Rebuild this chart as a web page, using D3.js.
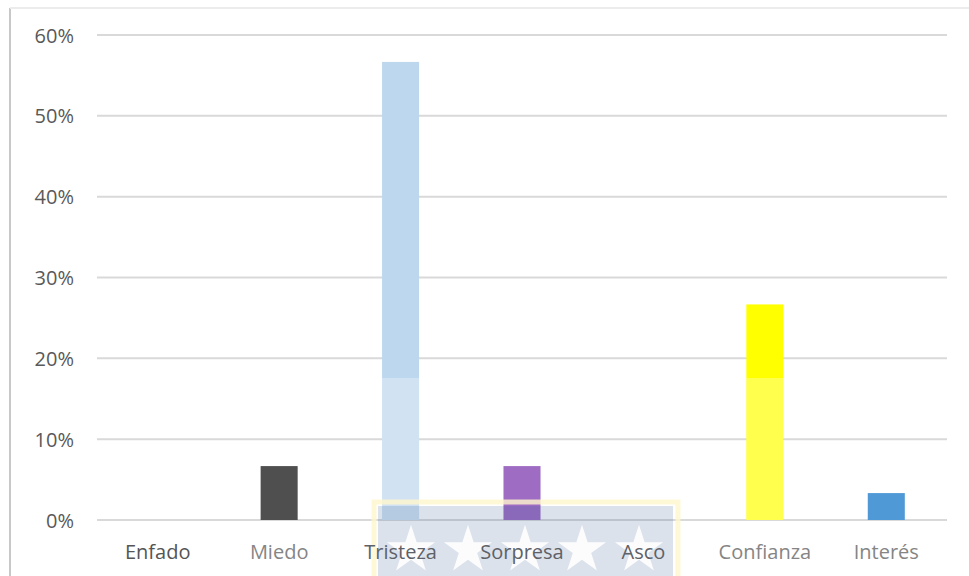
<!DOCTYPE html>
<html>
<head>
<meta charset="utf-8">
<script src="https://cdn.jsdelivr.net/npm/d3@7"></script>
<style>
  body { margin: 0; background: #fff; }
  svg { display: block; }
</style>
</head>
<body>
<div id="chart"></div>
<script>

// data (share of answers)
var categories = ["Enfado", "Miedo", "Tristeza", "Sorpresa", "Asco", "Confianza", "Interés"];
var values = [0, 0.0667, 0.5667, 0.0667, 0, 0.2667, 0.0333];
var barColors = ["#7f7f7f", "#4f4f4f", "#bdd7ee", "#9e6cc2", "#a5a5a5", "#ffff00", "#4f9ad6"];
var labelColors = ["#555555", "#858585", "#5e6167", "#5e6167", "#5e6167", "#858585", "#858585"];
var washed = ["Tristeza", "Confianza"];
var yTicks = [0, 0.1, 0.2, 0.3, 0.4, 0.5, 0.6];

var fontFamily = "'Open Sans', 'Noto Sans', sans-serif";

var W = 969, H = 576;
var margin = {top: 35, right: 22, bottom: 56, left: 97};
var width = W - margin.left - margin.right,
    height = H - margin.top - margin.bottom;

var svg = d3.select("#chart").append("svg")
    .attr("width", W)
    .attr("height", H);

// frame edges (left and top shadow lines)
svg.append("line").attr("x1", 10).attr("x2", 10).attr("y1", 8).attr("y2", H)
    .style("stroke", "#c8c8c8").style("stroke-width", 2);
svg.append("line").attr("x1", 10).attr("x2", W).attr("y1", 8).attr("y2", 8)
    .style("stroke", "#ececec").style("stroke-width", 2);

var g = svg.append("g")
    .attr("transform", "translate(" + margin.left + "," + margin.top + ")");

var x = d3.scaleBand()
    .domain(categories)
    .range([0, width])
    .paddingInner(0.695)
    .paddingOuter(0.3475);

var y = d3.scaleLinear()
    .domain([0, 0.6])
    .range([height, 0]);

// gridlines
g.append("g").selectAll("line")
    .data(yTicks)
  .enter().append("line")
    .attr("x1", 0)
    .attr("x2", width)
    .attr("y1", function(d) { return y(d); })
    .attr("y2", function(d) { return y(d); })
    .style("stroke", "#d9d9d9")
    .style("stroke-width", 2);

// y axis labels
var yAxis = d3.axisLeft(y)
    .tickValues(yTicks)
    .tickFormat(d3.format(".0%"))
    .tickSize(0)
    .tickPadding(23);
var ya = g.append("g").call(yAxis);
ya.select(".domain").remove();
ya.selectAll("text")
    .style("font-family", fontFamily)
    .style("font-size", "20px")
    .style("fill", "#595959")
    .attr("dy", "0.35em");

// bars
g.append("g").selectAll("rect")
    .data(values)
  .enter().append("rect")
    .attr("x", function(d, i) { return x(categories[i]); })
    .attr("y", function(d) { return y(d); })
    .attr("width", x.bandwidth())
    .attr("height", function(d) { return height - y(d); })
    .style("fill", function(d, i) { return barColors[i]; });

// pale wash over the lower part of the light bars
var washTop = 378 - margin.top;
g.append("g").selectAll("rect")
    .data(washed)
  .enter().append("rect")
    .attr("x", function(d) { return x(d); })
    .attr("y", washTop)
    .attr("width", x.bandwidth())
    .attr("height", height - washTop)
    .style("fill", "#ffffff")
    .style("opacity", 0.3);

// flag-like box with stars in front of the middle labels
svg.append("rect")
    .attr("x", 374).attr("y", 502)
    .attr("width", 304).attr("height", 80)
    .style("fill", "none")
    .style("stroke", "#fff6cc")
    .style("stroke-width", 5)
    .style("opacity", 0.8);
svg.append("rect")
    .attr("x", 378).attr("y", 506)
    .attr("width", 295).attr("height", 75)
    .style("fill", "#3a5d96")
    .style("opacity", 0.18);

var starX = [411, 468, 525, 582, 639];
var star = d3.symbol().type(d3.symbolStar).size(720);
svg.append("g").selectAll("path")
    .data(starX)
  .enter().append("path")
    .attr("d", star)
    .attr("transform", function(d) { return "translate(" + d + ",550)"; })
    .style("fill", "#ffffff")
    .style("opacity", 0.9);

// category labels (on top of the flag)
var xAxis = d3.axisBottom(x).tickSize(0).tickPadding(25);
var xa = svg.append("g")
    .attr("transform", "translate(" + margin.left + "," + (margin.top + height) + ")")
    .call(xAxis);
xa.select(".domain").remove();
xa.selectAll("text")
    .style("font-family", fontFamily)
    .style("font-size", "20px")
    .style("fill", function(d, i) { return labelColors[i]; });

</script>
</body>
</html>
